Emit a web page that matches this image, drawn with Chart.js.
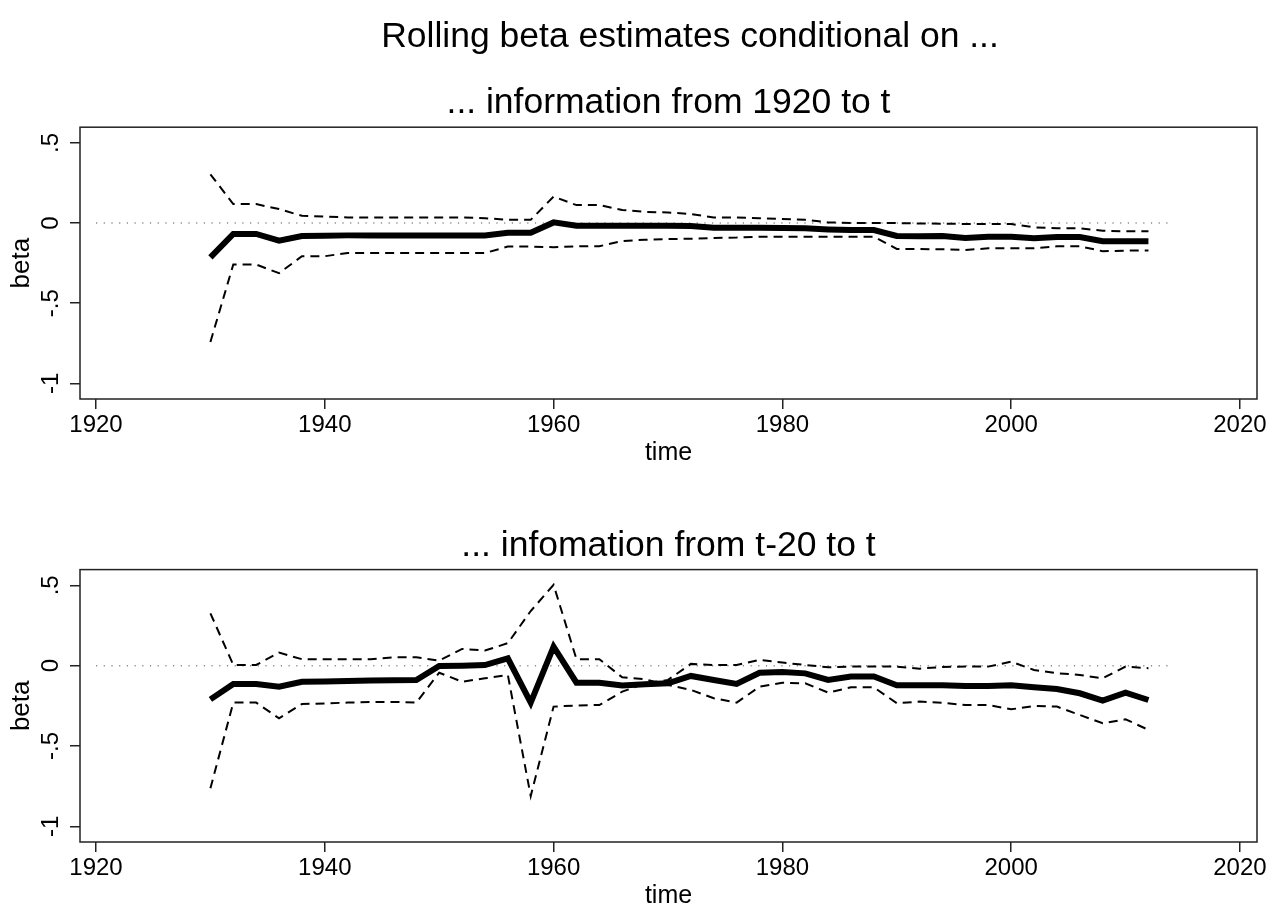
<!DOCTYPE html>
<html><head><meta charset="utf-8">
<script src="https://cdn.jsdelivr.net/npm/chart.js@4"></script>
<style>
html,body{margin:0;padding:0;background:#fff;overflow:hidden;width:1278px;height:905px;position:relative}
#c1{position:absolute;left:0;top:0}
#c2{position:absolute;left:0;top:470px}
</style></head><body>
<canvas id="c1" width="1380" height="470"></canvas>
<canvas id="c2" width="1278" height="443"></canvas>
<script>
// ---------------- data ----------------
const years = [1930,1932,1934,1936,1938,1940,1942,1944,1946,1948,1950,1952,1954,1956,1958,1960,1962,1964,1966,1968,1970,1972,1974,1976,1978,1980,1982,1984,1986,1988,1990,1992,1994,1996,1998,2000,2002,2004,2006,2008,2010,2012];

// panel 1: information from 1920 to t
const beta1 = [-0.214,-0.068,-0.068,-0.110,-0.081,-0.079,-0.077,-0.077,-0.077,-0.077,-0.077,-0.077,-0.077,-0.060,-0.060,0.004,-0.017,-0.017,-0.017,-0.017,-0.017,-0.019,-0.029,-0.029,-0.029,-0.031,-0.033,-0.040,-0.044,-0.044,-0.081,-0.083,-0.081,-0.093,-0.085,-0.085,-0.095,-0.087,-0.087,-0.114,-0.114,-0.114];
const upper1 = [0.304,0.118,0.118,0.087,0.045,0.041,0.035,0.035,0.035,0.035,0.035,0.035,0.030,0.020,0.020,0.165,0.112,0.112,0.081,0.070,0.066,0.056,0.035,0.035,0.030,0.025,0.020,0.004,0.000,0.000,0.000,-0.003,-0.004,-0.006,-0.006,-0.006,-0.027,-0.033,-0.033,-0.048,-0.052,-0.052];
const lower1 = [-0.742,-0.259,-0.259,-0.313,-0.207,-0.207,-0.187,-0.187,-0.187,-0.187,-0.187,-0.187,-0.187,-0.147,-0.147,-0.151,-0.145,-0.145,-0.112,-0.104,-0.100,-0.098,-0.093,-0.091,-0.085,-0.085,-0.085,-0.085,-0.085,-0.085,-0.162,-0.162,-0.164,-0.168,-0.158,-0.158,-0.158,-0.145,-0.145,-0.176,-0.172,-0.172];

// panel 2: information from t-20 to t
const beta2 = [-0.210,-0.114,-0.114,-0.131,-0.100,-0.098,-0.095,-0.093,-0.091,-0.089,-0.002,0.000,0.004,0.046,-0.230,0.118,-0.106,-0.106,-0.124,-0.116,-0.110,-0.064,-0.089,-0.114,-0.044,-0.039,-0.048,-0.089,-0.068,-0.068,-0.122,-0.122,-0.122,-0.126,-0.126,-0.122,-0.135,-0.145,-0.172,-0.218,-0.168,-0.214];
const upper2 = [0.326,0.004,0.004,0.081,0.040,0.040,0.040,0.040,0.052,0.052,0.031,0.104,0.094,0.140,0.340,0.503,0.040,0.040,-0.073,-0.085,-0.120,-0.151,-0.203,-0.230,-0.131,-0.106,-0.110,-0.168,-0.135,-0.135,-0.234,-0.224,-0.232,-0.245,-0.245,-0.272,-0.251,-0.255,-0.307,-0.359,-0.334,-0.400];
const lower2 = [-0.764,-0.230,-0.230,-0.328,-0.239,-0.235,-0.230,-0.226,-0.226,-0.230,-0.044,-0.100,-0.079,-0.058,-0.812,-0.255,-0.248,-0.245,-0.162,-0.110,-0.089,0.011,0.004,0.004,0.036,0.019,0.004,-0.010,-0.006,-0.006,-0.006,-0.019,-0.008,-0.006,-0.006,0.025,-0.027,-0.047,-0.058,-0.079,-0.006,-0.016];

const zeroLineYears = [1920, 2014];
const zeroLineValues = [0, 0];

const xTickValues = [1920,1940,1960,1980,2000,2020];
const yTickValues = [-1,-0.5,0,0.5];
const yTickLabels = ['-1','-.5','0','.5'];

const mainTitle = 'Rolling beta estimates conditional on ...';
const panelTitles = ['... information from 1920 to t', '... infomation from t-20 to t'];
const xTitle = 'time';
const yTitle = 'beta';

// ---------------- style ----------------
const FONT = "'Liberation Sans', Arial, sans-serif";
const X_MIN = 1918.60, X_MAX = 2021.49;
const Y_MIN = -1.098, Y_MAX = 0.598;
const INK = '#222';

const framePlugin = {
  id: 'frame',
  afterDatasetsDraw(chart) {
    const {ctx, chartArea: a} = chart;
    ctx.save();
    ctx.strokeStyle = INK;
    ctx.lineWidth = 1.5;
    ctx.strokeRect(a.left, a.top, a.right - a.left, a.bottom - a.top);
    ctx.restore();
  }
};

function pts(xs, ys) { return xs.map((x, i) => ({x: x, y: ys[i]})); }

function makeDatasets(beta, hi, lo) {
  return [
    {data: pts(years, beta), borderColor: '#000', borderWidth: 6, pointRadius: 0, tension: 0, borderJoinStyle: 'miter', borderCapStyle: 'butt', fill: false},
    {data: pts(years, hi), borderColor: '#000', borderWidth: 2, borderDash: [9, 6], pointRadius: 0, tension: 0, fill: false},
    {data: pts(years, lo), borderColor: '#000', borderWidth: 2, borderDash: [9, 6], pointRadius: 0, tension: 0, fill: false},
    {data: pts(zeroLineYears, zeroLineValues), borderColor: '#8a8a8a', borderWidth: 1.5, borderDash: [1.2, 6.5], pointRadius: 0, tension: 0, fill: false}
  ];
}

const gridOpts = {display: true, drawOnChartArea: false, drawTicks: true, tickLength: 10, color: INK, lineWidth: 1.5};

function makeScales(extraRight) {
  const s = {
    x: {
      type: 'linear', min: X_MIN, max: X_MAX,
      afterBuildTicks: sc => { sc.ticks = xTickValues.map(v => ({value: v})); },
      afterFit: sc => { sc.height = 71; },
      grid: gridOpts, border: {display: false},
      ticks: {font: {family: FONT, size: 24}, color: '#000', padding: 2, maxRotation: 0, minRotation: 0, autoSkip: false,
              callback: v => String(v)},
      title: {display: true, text: xTitle, font: {family: FONT, size: 25}, color: '#000', padding: {top: 0, bottom: 2}}
    },
    y: {
      type: 'linear', min: Y_MIN, max: Y_MAX,
      afterBuildTicks: sc => { sc.ticks = yTickValues.map(v => ({value: v})); },
      afterFit: sc => { sc.width = 80; },
      grid: gridOpts, border: {display: false},
      ticks: {font: {family: FONT, size: 24}, color: '#000', padding: 5, minRotation: 90, maxRotation: 90, crossAlign: 'center', autoSkip: false,
              callback: v => yTickLabels[yTickValues.indexOf(v)]},
      title: {display: true, text: yTitle, font: {family: FONT, size: 26}, color: '#000', padding: {top: 6, bottom: 0}}
    }
  };
  if (extraRight) {
    s.yR = {
      type: 'linear', position: 'right', min: 0, max: 1, display: true,
      grid: {display: false, drawTicks: false}, ticks: {display: false}, border: {display: false},
      afterFit: sc => { sc.width = extraRight; }
    };
  }
  return s;
}

// Panel 1 (with overall title)
new Chart(document.getElementById('c1'), {
  type: 'line',
  data: {datasets: makeDatasets(beta1, upper1, lower1)},
  options: {
    responsive: false, animation: false, events: [],
    layout: {padding: 0},
    scales: makeScales(123),
    plugins: {
      legend: {display: false}, tooltip: {enabled: false},
      title: {display: true, text: mainTitle, fullSize: true, color: '#000',
              font: {family: FONT, size: 35.5, weight: 'normal', lineHeight: 1.2}, padding: {top: 16, bottom: 23}},
      subtitle: {display: true, text: panelTitles[0], fullSize: false, color: '#000',
              font: {family: FONT, size: 35.5, weight: 'normal', lineHeight: 1.2}, padding: {top: 0, bottom: 3}}
    }
  },
  plugins: [framePlugin]
});

// Panel 2
new Chart(document.getElementById('c2'), {
  type: 'line',
  data: {datasets: makeDatasets(beta2, upper2, lower2)},
  options: {
    responsive: false, animation: false, events: [],
    layout: {padding: {left: 0, right: 21, top: 0, bottom: 0}},
    scales: makeScales(0),
    plugins: {
      legend: {display: false}, tooltip: {enabled: false},
      title: {display: true, text: panelTitles[1], fullSize: false, color: '#000',
              font: {family: FONT, size: 35.5, weight: 'normal', lineHeight: 1.2}, padding: {top: 55, bottom: 2}}
    }
  },
  plugins: [framePlugin]
});
</script>
</body></html>
